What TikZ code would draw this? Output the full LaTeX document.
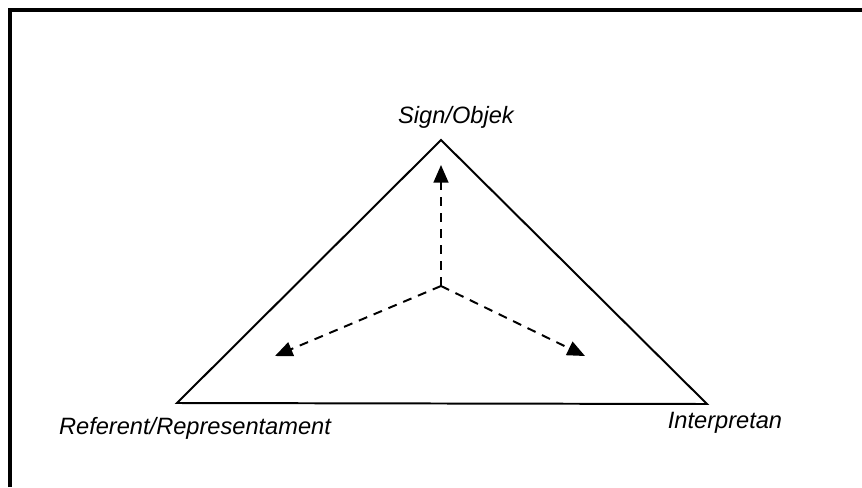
\documentclass[tikz,border=0pt]{standalone}
\usepackage{fontspec}
\setmainfont{Liberation Sans}
\usetikzlibrary{arrows.meta}
\tikzset{
  side/.style={draw=black,line width=1.4pt,line join=miter},      % triangle edge
  link/.style={-{Triangle[length=12.5pt,width=10.5pt]},black,line width=1.4pt,dash pattern=on 6.4pt off 5pt},
  lbl/.style={font=\fontsize{16.8}{20}\selectfont\itshape,inner sep=0pt},
  frame/.style={line width=2.8pt,line join=miter},
}

\begin{document}
\begin{tikzpicture}[x=0.025cm,y=-0.025cm]
  \useasboundingbox (0,0) rectangle (862,487);
  \draw[frame] (10,487) -- (10,10) -- (862,10);
  % corners of the triangle
  \coordinate (sign) at (441,140);
  \coordinate (ref) at (177,403);
  \coordinate (int) at (707,404);
  \coordinate (mid) at (441,286);
  \draw[side] (sign) -- (int) -- (ref) -- cycle;
  % arrow tips
  \coordinate (tipS) at (441,165);
  \coordinate (tipR) at (275,356);
  \coordinate (tipI) at (585,356);
  \draw[link] (mid) -- (tipS);
  \draw[link] (mid) -- (tipR);
  \draw[link] (mid) -- (tipI);
  % labels
  \node[lbl,anchor=base] (signlbl) at (456,123) {Sign/Objek};
  \node[lbl,anchor=base] (reflbl) at (195,434) {Referent/Representament};
  \node[lbl,anchor=base] (intlbl) at (725,428) {Interpretan};
\end{tikzpicture}
\end{document}
